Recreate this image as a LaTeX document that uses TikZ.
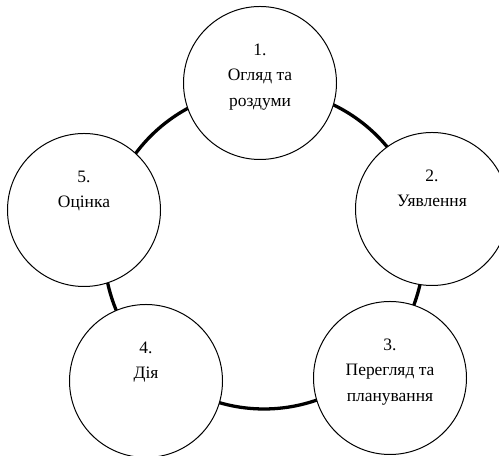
\documentclass[tikz,border=0pt]{standalone}
\usepackage{fontspec}
\setmainfont{Liberation Serif}
\usetikzlibrary{backgrounds}

\begin{document}
\begin{tikzpicture}[x=0.03cm,y=0.03cm,
  stage/.style={circle,draw,line width=0.85pt,fill=white,minimum size=4.59cm,inner sep=0pt},
  stagetext/.style={anchor=north,align=center,inner sep=0pt,font=\fontsize{14.9}{21.8}\selectfont},
  link/.style={line width=2.8pt}]
%%%
% stages of the cycle
%%%
\useasboundingbox (0,0) rectangle (499,456);
\coordinate (hub) at (264,207);

\node[stage] (s1) at (260,373) {};
\node[stage] (s2) at (432,247) {};
\node[stage] (s3) at (390,78) {};
\node[stage] (s4) at (146,75) {};
\node[stage] (s5) at (84,246) {};

\node[stagetext] (t1) at ([yshift=1.18cm]s1.center) {1.\\Огляд та\\роздуми};
\node[stagetext] (t2) at ([yshift=1.18cm]s2.center) {2.\\Уявлення};
\node[stagetext] (t3) at ([yshift=1.18cm]s3.center) {3.\\Перегляд та\\планування};
\node[stagetext] (t4) at ([yshift=1.18cm]s4.center) {4.\\Дія};
\node[stagetext] (t5) at ([yshift=1.18cm]s5.center) {5.\\Оцінка};

%%%
% ring behind the stages
%%%
\begin{scope}[on background layer]
\foreach \from/\to in {91.4/13.4, 13.4/-45.7, -45.7/-131.8, -131.8/-192.2, 167.8/91.4}
  \draw[link] (hub) ++(\from:160) arc[start angle=\from, end angle=\to, radius=160];
\end{scope}
\end{tikzpicture}
\end{document}
